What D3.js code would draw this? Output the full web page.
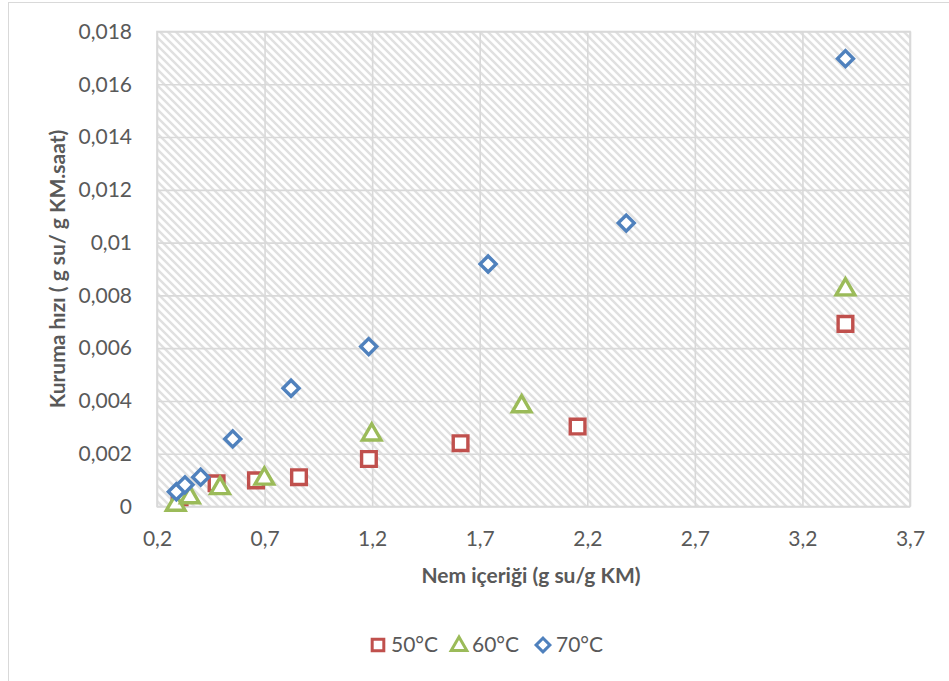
<!DOCTYPE html>
<html lang="tr">
<head>
<meta charset="utf-8">
<style>
  body { margin: 0; background: #fff; }
  text { font-family: Lato, "Open Sans", sans-serif; fill: #595959; }
</style>
</head>
<body>
<script src="https://cdn.jsdelivr.net/npm/d3@7"></script>
<script>

// moisture content (g su/g KM) and drying rate for each temperature
var x50 = [0.305, 0.477, 0.66, 0.86, 1.185, 1.611, 2.155, 3.40];
var y50 = [0.00035, 0.00088, 0.00099, 0.00111, 0.0018, 0.0024, 0.00303, 0.00692];

var x60 = [0.287, 0.353, 0.493, 0.699, 1.198, 1.895, 3.40];
var y60 = [0.00012, 0.0004, 0.00075, 0.00111, 0.00278, 0.00385, 0.00828];

var x70 = [0.29, 0.33, 0.403, 0.552, 0.823, 1.184, 1.739, 2.381, 3.40];
var y70 = [0.00056, 0.00082, 0.00111, 0.00256, 0.00448, 0.00606, 0.00919, 0.01074, 0.01697];

var xTicks = [0.2, 0.7, 1.2, 1.7, 2.2, 2.7, 3.2, 3.7];
var yTicks = [0, 0.002, 0.004, 0.006, 0.008, 0.01, 0.012, 0.014, 0.016, 0.018];

var seriesNames = ["50°C", "60°C", "70°C"];

var W = 949, H = 681;
var pL = 157, pR = 910, pT = 31.5, pB = 506.5;
var fs = "21px";

var x = d3.scaleLinear().domain([0.2, 3.7]).range([pL, pR]);
var y = d3.scaleLinear().domain([0, 0.018]).range([pB, pT]);

var svg = d3.select("body").append("svg")
  .attr("width", W)
  .attr("height", H);

// outer chart frame
svg.append("rect")
  .attr("x", 8.5).attr("y", 2.5)
  .attr("width", W + 20).attr("height", H + 20)
  .attr("fill", "#fff")
  .attr("stroke", "#d9d9d9");

// hatch fill of plot area
var pat = svg.append("defs").append("pattern")
  .attr("id", "hatch")
  .attr("patternUnits", "userSpaceOnUse")
  .attr("width", 8).attr("height", 8);
pat.append("rect").attr("width", 8).attr("height", 8).attr("fill", "#fff");
pat.append("path")
  .attr("d", "M-2,-2L10,10M-2,6L2,10M6,-2L10,2")
  .attr("stroke", "#e0e0e0")
  .attr("stroke-width", 2.4);

svg.append("rect")
  .attr("x", pL).attr("y", pT)
  .attr("width", pR - pL).attr("height", pB - pT)
  .attr("fill", "url(#hatch)");

// grid
var gx = svg.append("g")
  .attr("transform", "translate(0," + pB + ")")
  .call(d3.axisBottom(x).tickValues(xTicks).tickSize(-(pB - pT)).tickFormat(""));
var gy = svg.append("g")
  .attr("transform", "translate(" + pL + ",0)")
  .call(d3.axisLeft(y).tickValues(yTicks).tickSize(-(pR - pL)).tickFormat(""));
[gx, gy].forEach(function(g) {
  g.select(".domain").remove();
  g.selectAll("line").attr("stroke", "#d9d9d9").attr("stroke-width", 1.6);
});

svg.append("rect")
  .attr("x", pL).attr("y", pT)
  .attr("width", pR - pL).attr("height", pB - pT)
  .attr("fill", "none")
  .attr("stroke", "#d9d9d9")
  .attr("stroke-width", 1.6);

// tick labels
function comma(v, d) { return (+v.toFixed(d)).toString().replace(".", ","); }

var ax = svg.append("g")
  .attr("transform", "translate(0," + (pB + 22) + ")")
  .call(d3.axisBottom(x).tickValues(xTicks).tickSize(0).tickFormat(function(d) { return comma(d, 1); }));
var ay = svg.append("g")
  .attr("transform", "translate(" + (pL - 22) + ",0)")
  .call(d3.axisLeft(y).tickValues(yTicks).tickSize(0).tickFormat(function(d) { return comma(d, 3); }));
[ax, ay].forEach(function(g) {
  g.select(".domain").remove();
  g.selectAll("text")
    .attr("fill", "#595959")
    .style("font-family", "Lato, 'Open Sans', sans-serif")
    .style("font-size", fs);
});

// axis titles
svg.append("text")
  .attr("x", 531).attr("y", 583)
  .attr("text-anchor", "middle")
  .style("font-size", fs)
  .style("font-weight", "bold")
  .text("Nem içeriği (g su/g KM)");

svg.append("text")
  .attr("transform", "translate(65,269) rotate(-90)")
  .attr("text-anchor", "middle")
  .style("font-size", fs)
  .style("font-weight", "bold")
  .text("Kuruma hızı ( g su/ g KM.saat)");

// markers
var colors = ["#c0504d", "#9bbb59", "#4f81bd"];
var shapes = [
  { type: d3.symbolSquare, size: 215, rot: 0, dy: 0, leg: 135 },
  { type: d3.symbolTriangle, size: 150, rot: 0, dy: 1.5, leg: 105 },
  { type: d3.symbolSquare, size: 128, rot: 45, dy: 0, leg: 95 }
];
var series = [
  d3.zip(x50, y50),
  d3.zip(x60, y60),
  d3.zip(x70, y70)
];

series.forEach(function(pts, i) {
  var s = shapes[i];
  svg.append("g").selectAll("path")
    .data(pts)
    .enter().append("path")
    .attr("d", d3.symbol().type(s.type).size(s.size))
    .attr("transform", function(d) {
      return "translate(" + x(d[0]) + "," + (y(d[1]) + s.dy) + ") rotate(" + s.rot + ")";
    })
    .attr("fill", "#fff")
    .attr("stroke", colors[i])
    .attr("stroke-width", 3.4);
});

// legend
var legendX = [378, 459, 543];
var legend = svg.selectAll(".legend")
  .data(seriesNames)
  .enter().append("g")
  .attr("class", "legend")
  .attr("transform", function(d, i) { return "translate(" + legendX[i] + ",645)"; });

legend.append("path")
  .attr("d", function(d, i) {
    return d3.symbol().type(shapes[i].type).size(shapes[i].leg)();
  })
  .attr("transform", function(d, i) { return "translate(0," + (i === 1 ? 1 : 0) + ") rotate(" + shapes[i].rot + ")"; })
  .attr("fill", "#fff")
  .attr("stroke", function(d, i) { return colors[i]; })
  .attr("stroke-width", 3);

legend.append("text")
  .attr("x", 13)
  .attr("dy", "0.35em")
  .style("font-size", fs)
  .text(function(d) { return d; });

</script>
</body>
</html>
